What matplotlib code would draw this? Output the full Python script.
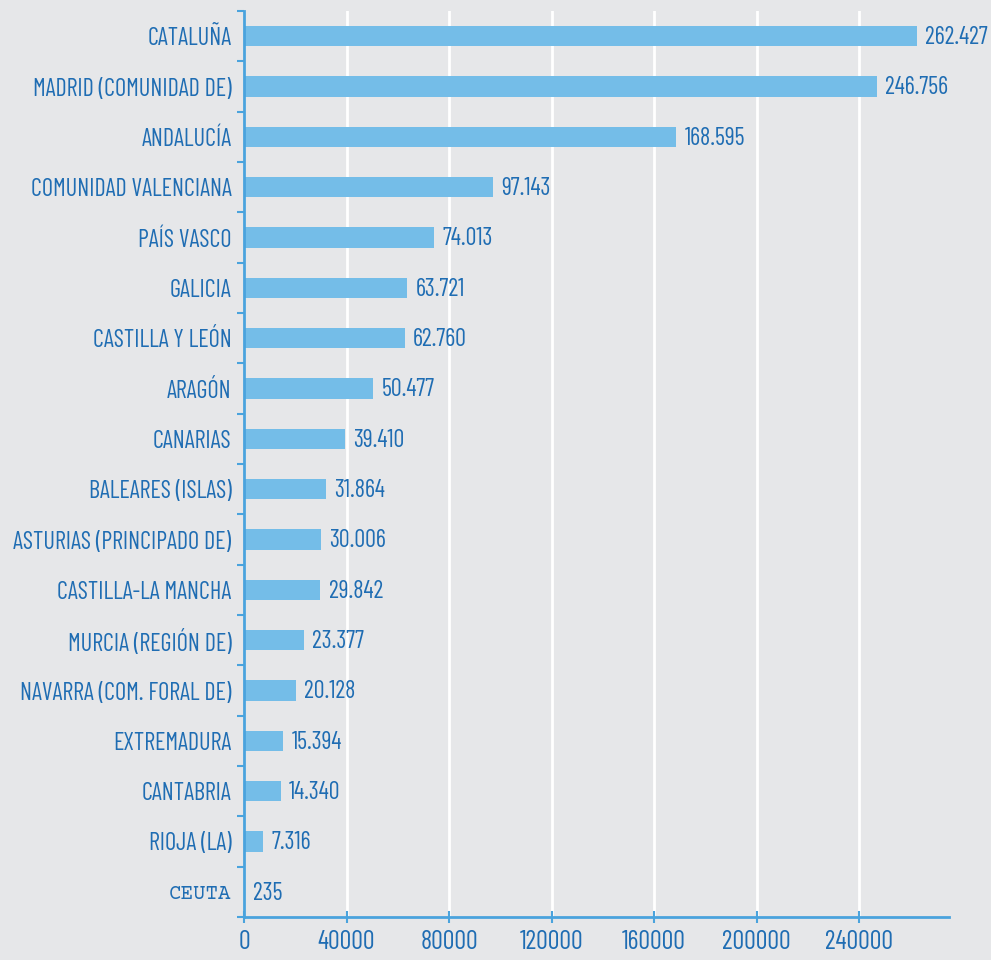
import matplotlib
matplotlib.use("Agg")
import matplotlib.pyplot as plt
from matplotlib.ticker import FixedLocator

regions = ["CATALUÑA", "MADRID (COMUNIDAD DE)", "ANDALUCÍA", "COMUNIDAD VALENCIANA",
           "PAÍS VASCO", "GALICIA", "CASTILLA Y LEÓN", "ARAGÓN", "CANARIAS",
           "BALEARES (ISLAS)", "ASTURIAS (PRINCIPADO DE)", "CASTILLA-LA MANCHA",
           "MURCIA (REGIÓN DE)", "NAVARRA (COM. FORAL DE)", "EXTREMADURA",
           "CANTABRIA", "RIOJA (LA)", "CEUTA"]
values = [262427, 246756, 168595, 97143, 74013, 63721, 62760, 50477, 39410,
          31864, 30006, 29842, 23377, 20128, 15394, 14340, 7316, 235]
xticks = [0, 40000, 80000, 120000, 160000, 200000, 240000]

bg = "#e6e7e9"
bar_color = "#74bde8"
text_color = "#1f6db3"
axis_color = "#4aa3dd"
fam = ["Barlow Condensed", "Roboto Condensed", "Liberation Sans", "DejaVu Sans"]
mono = ["Courier Prime", "Liberation Mono", "DejaVu Sans Mono"]
base = 16

fig = plt.figure(figsize=(9.91, 9.6), dpi=100, facecolor=bg)
ax = fig.add_axes([0.2462, 0.0448, 0.9576 - 0.2462, 0.9437])
ax.set_facecolor(bg)

pos = list(range(len(regions)))
ax.barh(pos, values, height=0.4, color=bar_color, zorder=2)
value_texts = []
for p, v in zip(pos, values):
    t = ax.annotate(f"{v:,}".replace(",", "."), (v, p), xytext=(6, -1),
                    textcoords="offset points", va="center", ha="left",
                    fontsize=base, color=text_color, family=fam)
    value_texts.append(t)

ax.set_xlim(0, 275000)
ax.set_ylim(len(regions) - 0.5, -0.5)

ax.set_xticks(xticks)
ax.set_xticklabels([str(t) for t in xticks], fontsize=base, color=text_color, family=fam)
ax.tick_params(axis="x", direction="inout", length=9, width=1.5, color=axis_color, pad=5)
ax.grid(axis="x", color="white", linewidth=2, zorder=0)

ax.yaxis.set_major_locator(FixedLocator([i - 0.5 for i in range(len(regions) + 1)]))
ax.yaxis.set_minor_locator(FixedLocator(pos))
ax.set_yticklabels([])
ax.set_yticklabels(regions, minor=True)
ax.tick_params(axis="y", which="major", direction="out", length=5, width=1.5, color=axis_color)
ax.tick_params(axis="y", which="minor", length=0, pad=9, labelsize=base, labelcolor=text_color)
ylabels = ax.get_yticklabels(minor=True)
for lab in ylabels:
    lab.set_family(fam)
    if lab.get_text() == "CEUTA":
        lab.set_family(mono)
        lab.set_fontsize(15)

for s in ["top", "right"]:
    ax.spines[s].set_visible(False)
for s in ["left", "bottom"]:
    ax.spines[s].set_color(axis_color)
    ax.spines[s].set_linewidth(2)

# fit text size so the longest region name is about as wide as in the reference
fig.canvas.draw()
r = fig.canvas.get_renderer()
longest = [lab for lab in ylabels if lab.get_text().startswith("ASTURIAS")][0]
size = min(19, base * 218 / longest.get_window_extent(r).width)
for lab in ylabels:
    if lab.get_text() != "CEUTA":
        lab.set_fontsize(size)
for lab in ax.get_xticklabels():
    lab.set_fontsize(size * 1.08)
for t in value_texts:
    t.set_fontsize(size)

fig.savefig("out.png", dpi=100, facecolor=bg)
